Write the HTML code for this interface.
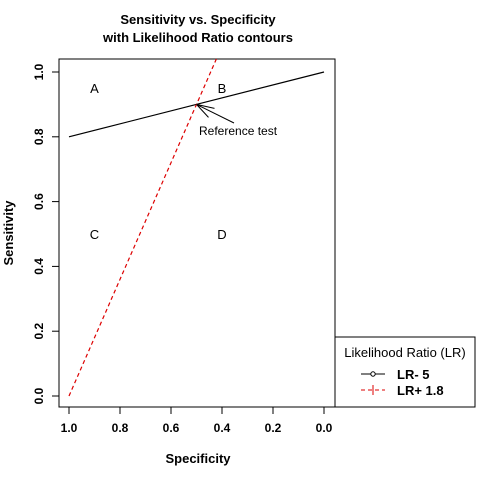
<!DOCTYPE html>
<html><head><meta charset="utf-8"><style>body{margin:0;background:#fff}svg{display:block;font-family:"Liberation Sans",Arial,sans-serif}</style></head>
<body>
<svg id="c" width="480" height="480"></svg>
<script>
const xTicks=[1.0,0.8,0.6,0.4,0.2,0.0];
const yTicks=[0.0,0.2,0.4,0.6,0.8,1.0];
const refSpec=0.5, refSens=0.9;
const lrNeg=[5], lrPos=[1.8];
const regionLabels=["A","B","C","D"];
const regionSpec=[0.9,0.4,0.9,0.4];
const regionSens=[0.95,0.95,0.5,0.5];
const X=s=>69+(1-s)*255, Y=v=>396-v*324;
const svg=document.getElementById('c');
const NS='http://www.w3.org/2000/svg';
function el(t,a,txt){const e=document.createElementNS(NS,t);for(const k in a)e.setAttribute(k,a[k]);if(txt!==undefined)e.textContent=txt;svg.appendChild(e);return e;}
let e;
e=el('text',{x:198,y:24,'text-anchor':'middle','font-size':13,'font-weight':'bold'},'Sensitivity vs. Specificity');


e=el('text',{x:198,y:42,'text-anchor':'middle','font-size':13,'font-weight':'bold'},'with Likelihood Ratio contours');


e=el('rect',{x:59,y:59,width:276,height:348,fill:'none',stroke:'#000'});


xTicks.forEach(t=>{el('line',{x1:X(t),x2:X(t),y1:407,y2:414,stroke:'#000'});
 e=el('text',{x:X(t),y:432,'text-anchor':'middle','font-size':12,'font-weight':'bold'},t.toFixed(1));
 
 });
yTicks.forEach(t=>{el('line',{x1:52,x2:59,y1:Y(t),y2:Y(t),stroke:'#000'});
 e=el('text',{x:0,y:0,'text-anchor':'middle','font-size':12,'font-weight':'bold',transform:`translate(43,${Y(t)}) rotate(-90)`},t.toFixed(1));
 
 });
e=el('text',{x:198,y:463,'text-anchor':'middle','font-size':13,'font-weight':'bold'},'Specificity');


e=el('text',{x:0,y:0,'text-anchor':'middle','font-size':13,'font-weight':'bold',transform:'translate(13,233) rotate(-90)'},'Sensitivity');


const lrn=(1-refSens)/refSpec;
e=el('line',{x1:X(1),y1:Y(1-lrn*1),x2:X(0),y2:Y(1),stroke:'#000','stroke-width':1.2});


const slope=refSens/(1-refSpec); const topS=(396-59)/324; const specTop=1-topS/slope;
e=el('line',{x1:X(1),y1:Y(0),x2:X(specTop),y2:Y(topS),stroke:'#d00','stroke-width':1.2,'stroke-dasharray':'4,3'});


regionLabels.forEach((l,i)=>{e=el('text',{x:X(regionSpec[i]),y:Y(regionSens[i])+5,'text-anchor':'middle','font-size':13},l);
 
 });
const px=X(refSpec),py=Y(refSens);
e=el('path',{d:`M234,123 L${px},${py} M${px},${py} L${px+18},${py+4} M${px},${py} L${px+12},${py+13}`,stroke:'#000',fill:'none'});


e=el('text',{x:199,y:135,'font-size':12},'Reference test');


e=el('rect',{x:335,y:337,width:140,height:70,fill:'#fff',stroke:'#000'});


e=el('text',{x:405,y:357,'text-anchor':'middle','font-size':13},'Likelihood Ratio (LR)');


el('line',{x1:361,x2:385,y1:374,y2:374,stroke:'#000'});
el('circle',{cx:373,cy:374,r:2.2,fill:'#fff',stroke:'#000'});
e=el('text',{x:397,y:379,'font-size':13,'font-weight':'bold'},'LR- '+lrNeg[0]);


el('line',{x1:361,x2:385,y1:390,y2:390,stroke:'#d00','stroke-dasharray':'4,3'});
el('line',{x1:373,x2:373,y1:385,y2:395,stroke:'#d00'});
e=el('text',{x:397,y:395,'font-size':13,'font-weight':'bold'},'LR+ '+lrPos[0]);


</script>
</body></html>
